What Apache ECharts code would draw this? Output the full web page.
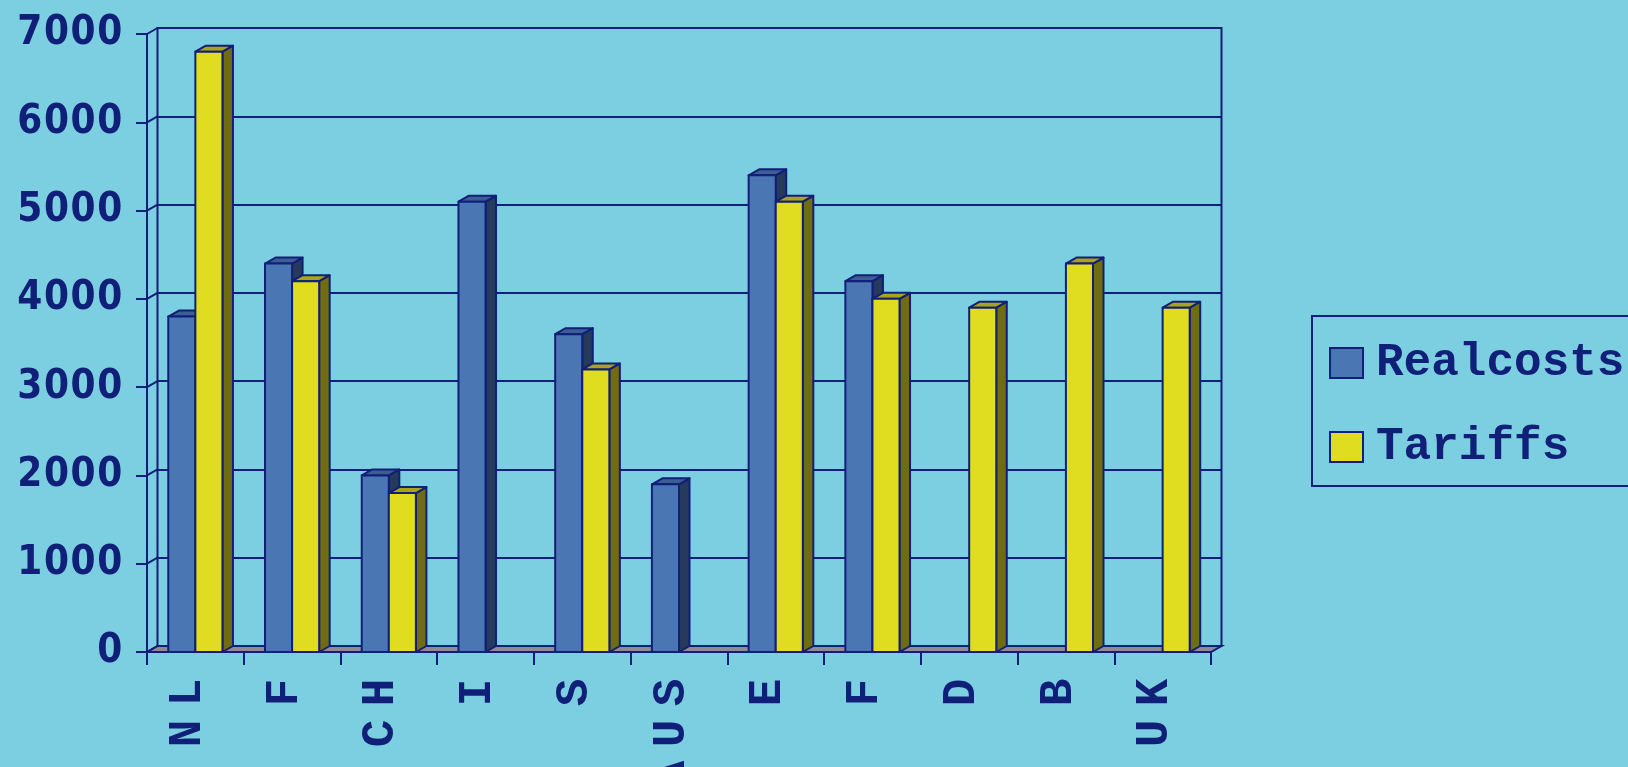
<!DOCTYPE html>
<html>
<head>
<meta charset="utf-8">
<script src="https://cdn.jsdelivr.net/npm/echarts@6/dist/echarts.min.js"></script>
<style>
  html, body { margin: 0; padding: 0; background: #7ccfe1; }
  #chart { width: 1628px; height: 767px; }
</style>
</head>
<body>
<div id="chart"></div>
<script>
// ---- data ----
const categories = ['NL', 'F', 'CH', 'I', 'S', 'AUS', 'E', 'F', 'D', 'B', 'UK'];
const realcosts = [3800, 4400, 2000, 5100, 3600, 1900, 5400, 4200, null, null, null];
const tariffs   = [6800, 4200, 1800, null, 3200, null, 5100, 4000, 3900, 4400, 3900];
const yTicks = [0, 1000, 2000, 3000, 4000, 5000, 6000, 7000];
const seriesNames = ['Realcosts', 'Tariffs'];

// ---- style ----
const NAVY = '#101f78';
const BG = '#7ccfe1';
const DX = 10.5, DY = 6;           // depth offset of the pseudo 3D
const BAR_FRAC = 0.28;             // bar width as fraction of band

const palettes = {
  Realcosts: { front: '#4a76b3', side: '#263a5c', top: '#3c5e92' },
  Tariffs:   { front: '#e0dc20', side: '#706c12', top: '#aaa41a' }
};

function barRenderer(name, offsetSign) {
  const pal = palettes[name];
  return function (params, api) {
    const v = api.value(1);
    if (v === null || v === undefined || isNaN(v)) return;
    const cat = api.value(0);
    const base = api.coord([cat, 0]);
    const top = api.coord([cat, v]);
    const bw = api.size([1, 0])[0];
    const w = bw * BAR_FRAC;
    const x = offsetSign < 0 ? base[0] - w : base[0];
    const y0 = base[1], y1 = top[1];
    const stroke = { stroke: NAVY, lineWidth: 2, lineJoin: 'round' };
    return {
      type: 'group',
      children: [
        { type: 'polygon', shape: { points: [[x + w, y1], [x + w + DX, y1 - DY], [x + w + DX, y0 - DY], [x + w, y0]] },
          style: Object.assign({ fill: pal.side }, stroke) },
        { type: 'polygon', shape: { points: [[x, y1], [x + DX, y1 - DY], [x + w + DX, y1 - DY], [x + w, y1]] },
          style: Object.assign({ fill: pal.top }, stroke) },
        { type: 'rect', shape: { x: x, y: y1, width: w, height: y0 - y1 },
          style: Object.assign({ fill: pal.front }, stroke) }
      ]
    };
  };
}

function spaced(tag) {
  return function (val) {
    return String(val).split('').map(function (c) { return '{' + tag + '|' + c + '}'; }).join('');
  };
}

const chart = echarts.init(document.getElementById('chart'), null, { renderer: 'canvas' });

const option = {
  backgroundColor: BG,
  animation: false,
  color: [palettes.Realcosts.front, palettes.Tariffs.front],
  grid: [
    // back wall
    { left: 147 + DX, top: 34 - DY, width: 1064, height: 618, show: true, containLabel: false,
      outerBoundsMode: 'none',
      borderColor: NAVY, borderWidth: 2, backgroundColor: 'transparent' },
    // front plane
    { left: 147, top: 34, width: 1064, height: 618, containLabel: false, outerBoundsMode: 'none' }
  ],
  xAxis: [
    { gridIndex: 0, type: 'category', data: categories, show: false },
    { gridIndex: 1, type: 'category', data: categories, boundaryGap: true,
      axisLine: { show: true, lineStyle: { color: NAVY, width: 2 } },
      axisTick: { show: true, length: 13, lineStyle: { color: NAVY, width: 2 } },
      axisLabel: {
        interval: 0, rotate: 90, margin: 20, hideOverlap: false,
        formatter: spaced('c'),
        rich: {
          c: { fontFamily: "'Liberation Mono', 'Courier New', monospace", fontWeight: 'bold',
               fontSize: 46, color: NAVY, padding: [0, 6.7, 14, 6.7] }
        }
      }
    }
  ],
  yAxis: [
    { gridIndex: 0, type: 'value', min: 0, max: 7000, interval: 1000,
      axisLine: { show: false }, axisTick: { show: false }, axisLabel: { show: false },
      splitLine: { show: true, lineStyle: { color: NAVY, width: 2 } } },
    { gridIndex: 1, type: 'value', min: 0, max: 7000, interval: 1000,
      axisLine: { show: true, lineStyle: { color: NAVY, width: 2 } },
      axisTick: { show: true, length: 11, lineStyle: { color: NAVY, width: 2 } },
      splitLine: { show: false },
      axisLabel: {
        margin: 24,
        formatter: spaced('d'),
        rich: {
          d: { fontFamily: "'DejaVu Sans Condensed', 'DejaVu Sans', sans-serif", fontWeight: 'bold',
               fontSize: 40, color: NAVY, padding: [0, 0.8, 0, 0.8] }
        }
      }
    }
  ],
  legend: {
    data: seriesNames,
    orient: 'vertical',
    left: 1312, top: 316,
    padding: [24, 40, 16, 17],
    itemWidth: 33, itemHeight: 30, itemGap: 38,
    borderColor: NAVY, borderWidth: 2,
    icon: 'rect',
    itemStyle: { borderColor: NAVY, borderWidth: 2 },
    textStyle: { fontFamily: "'Liberation Mono', 'Courier New', monospace", fontWeight: 'bold',
                 fontSize: 46, color: NAVY, lineHeight: 30, padding: [0, 0, 0, 8] }
  },
  series: [
    // floor
    { type: 'custom', name: 'floor', xAxisIndex: 1, yAxisIndex: 1, z: 1, silent: true,
      data: [[0, 0]],
      renderItem: function (params, api) {
        const bw = api.size([1, 0])[0];
        const a = api.coord([0, 0]);
        const b = api.coord([categories.length - 1, 0]);
        const l = a[0] - bw / 2, r = b[0] + bw / 2, y = a[1];
        return { type: 'polygon', shape: { points: [[l, y], [r, y], [r + DX, y - DY], [l + DX, y - DY]] },
                 style: { fill: '#8c8c98', stroke: NAVY, lineWidth: 2 } };
      }
    },
    // side wall connectors at the ticks
    { type: 'custom', name: 'wall', xAxisIndex: 1, yAxisIndex: 1, z: 1, silent: true,
      data: yTicks.map(function (t) { return [0, t]; }),
      renderItem: function (params, api) {
        const bw = api.size([1, 0])[0];
        const p = api.coord([0, api.value(1)]);
        const l = p[0] - bw / 2;
        return { type: 'line', shape: { x1: l, y1: p[1], x2: l + DX, y2: p[1] - DY },
                 style: { stroke: NAVY, lineWidth: 2 } };
      }
    },
    { type: 'custom', name: seriesNames[0], xAxisIndex: 1, yAxisIndex: 1, z: 3,
      itemStyle: { color: palettes.Realcosts.front },
      data: realcosts.map(function (v, i) { return [i, v]; }),
      renderItem: barRenderer('Realcosts', -1) },
    { type: 'custom', name: seriesNames[1], xAxisIndex: 1, yAxisIndex: 1, z: 4,
      itemStyle: { color: palettes.Tariffs.front },
      data: tariffs.map(function (v, i) { return [i, v]; }),
      renderItem: barRenderer('Tariffs', 1) }
  ]
};

chart.setOption(option);
</script>
</body>
</html>
